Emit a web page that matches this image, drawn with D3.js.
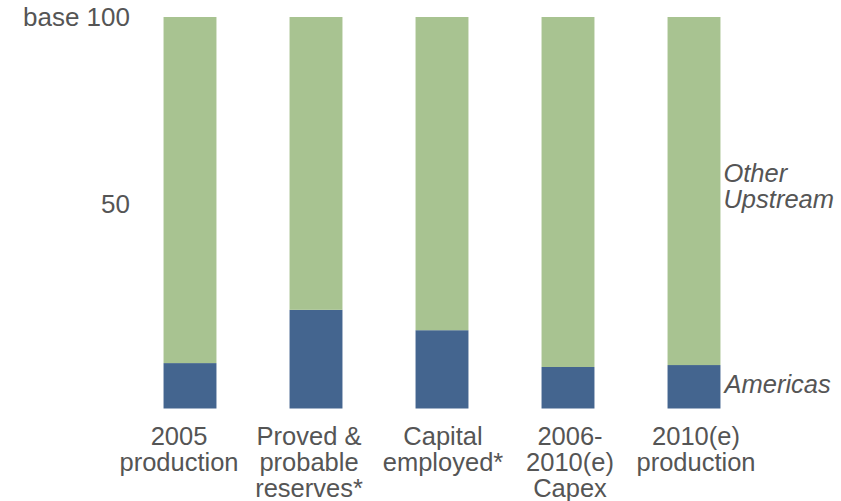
<!DOCTYPE html>
<html>
<head>
<meta charset="utf-8">
<script src="https://cdn.jsdelivr.net/npm/d3@7"></script>
<style>
  html, body { margin: 0; padding: 0; background: #fff; }
  text { font-family: "Liberation Sans", Arial, Helvetica, sans-serif; fill: #555; }
</style>
</head>
<body>
<svg id="chart" width="841" height="501"></svg>
<script>
// Upstream split, indexed to base 100
const categories = [
  ["2005", "production"],
  ["Proved &", "probable", "reserves*"],
  ["Capital", "employed*"],
  ["2006-", "2010(e)", "Capex"],
  ["2010(e)", "production"]
];
const americas = [11.6, 25.2, 20.0, 10.6, 11.1];
const otherUpstream = americas.map(v => 100 - v);
const seriesNames = ["Americas", "Other Upstream"];
const yTicks = [50, 100];
const yTickLabels = ["50", "base 100"];

const colors = { "Americas": "#44658f", "Other Upstream": "#a8c391" };

const svg = d3.select("#chart");

const x = d3.scaleBand()
  .domain(d3.range(categories.length))
  .range([127, 757])
  .paddingInner(0.58)
  .paddingOuter(0.29);

const y = d3.scaleLinear().domain([0, 100]).range([408.5, 17]);

const rows = categories.map((c, i) => ({ i, "Americas": americas[i], "Other Upstream": otherUpstream[i] }));
const stacked = d3.stack().keys(seriesNames)(rows);

svg.append("g").selectAll("g")
  .data(stacked)
  .join("g")
  .attr("fill", d => colors[d.key])
  .selectAll("rect")
  .data(d => d)
  .join("rect")
  .attr("x", d => x(d.data.i))
  .attr("width", x.bandwidth())
  .attr("y", d => y(d[1]))
  .attr("height", d => y(d[0]) - y(d[1]));

// value axis labels (no line, no ticks)
svg.append("g").selectAll("text")
  .data(yTicks)
  .join("text")
  .attr("x", 130)
  .attr("y", d => Math.max(y(d), y(100) + 9))
  .attr("text-anchor", "end")
  .style("font-size", "26px")
  .text((d, i) => yTickLabels[i]);

// category labels, multi-line
const labelShift = [-11, -7, 1, 2, 2];
const cat = svg.append("g").selectAll("text")
  .data(categories)
  .join("text")
  .attr("text-anchor", "middle")
  .style("font-size", "25.5px")
  .attr("transform", (d, i) => `translate(${x(i) + x.bandwidth() / 2 + labelShift[i]},445)`);
cat.selectAll("tspan")
  .data(d => d)
  .join("tspan")
  .attr("x", 0)
  .attr("y", (d, j) => j * 26)
  .text(d => d);

// series labels at the right of the last bar
const lastRight = x(categories.length - 1) + x.bandwidth();
const seriesLabel = svg.append("g")
  .style("font-size", "25.5px")
  .style("font-style", "italic");
seriesLabel.append("text")
  .attr("x", lastRight + 3)
  .attr("y", 182)
  .text("Other");
seriesLabel.append("text")
  .attr("x", lastRight + 3)
  .attr("y", 208)
  .text("Upstream");
seriesLabel.append("text")
  .attr("x", lastRight + 4)
  .attr("y", 393)
  .text("Americas");
</script>
</body>
</html>
